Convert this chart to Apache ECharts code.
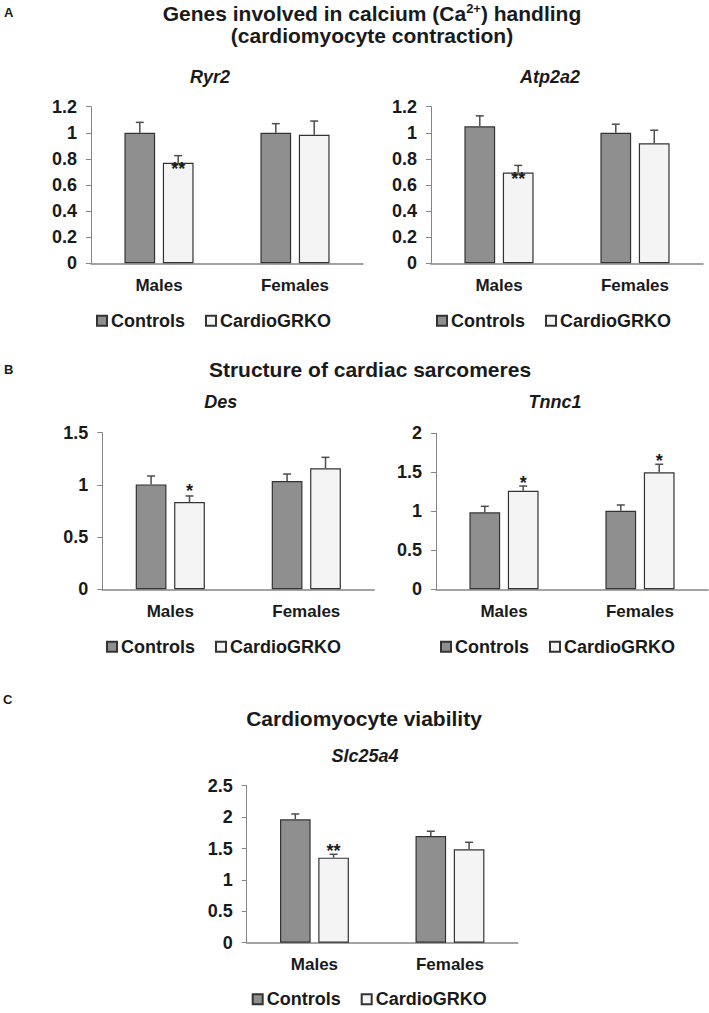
<!DOCTYPE html>
<html>
<head>
<meta charset="utf-8">
<script src="https://cdn.jsdelivr.net/npm/echarts@6/dist/echarts.min.js"></script>
<style>
html,body{margin:0;padding:0;background:#fff;}
#chart{width:709px;height:1013px;}
</style>
</head>
<body>
<div id="chart"></div>
<script>
// ---------- data ----------
const categories = ['Males', 'Females'];
const seriesNames = ['Controls', 'CardioGRKO'];

const ryr2Controls = [1.00, 1.00];
const ryr2ControlsErr = [0.08, 0.07];
const ryr2Ko = [0.77, 0.985];
const ryr2KoErr = [0.055, 0.105];
const ryr2Sig = ['**', ''];

const atp2a2Controls = [1.05, 1.00];
const atp2a2ControlsErr = [0.08, 0.066];
const atp2a2Ko = [0.695, 0.92];
const atp2a2KoErr = [0.055, 0.10];
const atp2a2Sig = ['**', ''];

const desControls = [1.005, 1.037];
const desControlsErr = [0.08, 0.067];
const desKo = [0.836, 1.159];
const desKoErr = [0.058, 0.105];
const desSig = ['*', ''];

const tnnc1Controls = [0.987, 1.008];
const tnnc1ControlsErr = [0.077, 0.073];
const tnnc1Ko = [1.264, 1.50];
const tnnc1KoErr = [0.06, 0.103];
const tnnc1Sig = ['*', '*'];

const slcControls = [1.965, 1.70];
const slcControlsErr = [0.085, 0.075];
const slcKo = [1.354, 1.487];
const slcKoErr = [0.054, 0.112];
const slcSig = ['**', ''];

// y-axis tick settings [min, max, interval]
const ryr2Ticks = [0, 1.2, 0.2];
const atp2a2Ticks = [0, 1.2, 0.2];
const desTicks = [0, 1.5, 0.5];
const tnnc1Ticks = [0, 2, 0.5];
const slcTicks = [0, 2.5, 0.5];

// ---------- layout / styling ----------
const FONT = "'Liberation Sans', Arial, sans-serif";
const TXT = '#1a1a1a';
const AXIS = '#858585';
const CTRL_FILL = '#8f8f8f';
const KO_FILL = '#f4f4f4';
const BORDER = '#333333';
const ERR = '#4d4d4d';

const panels = [
  {gene: 'Ryr2', ctrl: ryr2Controls, ctrlErr: ryr2ControlsErr, ko: ryr2Ko, koErr: ryr2KoErr, sig: ryr2Sig, ticks: ryr2Ticks,
   grid: {left: 91, top: 106.7, width: 272, height: 156.6}, sub: [210, 77], legend: [96, 320.7], sigAt: 'bar', sigDy: 6},
  {gene: 'Atp2a2', ctrl: atp2a2Controls, ctrlErr: atp2a2ControlsErr, ko: atp2a2Ko, koErr: atp2a2KoErr, sig: atp2a2Sig, ticks: atp2a2Ticks,
   grid: {left: 431, top: 106.7, width: 272, height: 156.6}, sub: [550, 77], legend: [436, 320.7], sigAt: 'bar', sigDy: 6},
  {gene: 'Des', ctrl: desControls, ctrlErr: desControlsErr, ko: desKo, koErr: desKoErr, sig: desSig, ticks: desTicks,
   grid: {left: 102.3, top: 432.7, width: 272, height: 156.6}, sub: [220.7, 401.7], legend: [106, 646.7], sigAt: 'err', sigDy: -5},
  {gene: 'Tnnc1', ctrl: tnnc1Controls, ctrlErr: tnnc1ControlsErr, ko: tnnc1Ko, koErr: tnnc1KoErr, sig: tnnc1Sig, ticks: tnnc1Ticks,
   grid: {left: 436, top: 433.3, width: 272, height: 156}, sub: [555, 401.7], legend: [440, 646.7], sigAt: 'err', sigDy: -3},
  {gene: 'Slc25a4', ctrl: slcControls, ctrlErr: slcControlsErr, ko: slcKo, koErr: slcKoErr, sig: slcSig, ticks: slcTicks,
   grid: {left: 246.7, top: 785.7, width: 271, height: 157}, sub: [365, 756], legend: [251.7, 999.3], sigAt: 'err', sigDy: -3}
];

const BAR_FRAC = 0.226;   // bar width as fraction of category band
const BAR_GAP = 0.25;     // gap between bars as fraction of bar width
const OFFSET_FRAC = BAR_FRAC * (1 + BAR_GAP) / 2;

const grids = [], xAxes = [], yAxes = [], series = [], legends = [];
const graphics = [];

function fmt(v) { return String(parseFloat(v.toFixed(2))); }

panels.forEach((p, i) => {
  grids.push(Object.assign({containLabel: false}, p.grid));
  xAxes.push({
    type: 'category', gridIndex: i, data: categories,
    axisLine: {show: true, lineStyle: {color: AXIS, width: 1.5}},
    axisTick: {show: false},
    axisLabel: {color: TXT, fontFamily: FONT, fontWeight: 'bold', fontSize: 17, margin: 13.5},
    splitLine: {show: false}
  });
  yAxes.push({
    type: 'value', gridIndex: i, min: p.ticks[0], max: p.ticks[1], interval: p.ticks[2],
    axisLine: {show: true, lineStyle: {color: AXIS, width: 1}},
    axisTick: {show: true, inside: false, length: 5, lineStyle: {color: AXIS}},
    axisLabel: {color: TXT, fontFamily: FONT, fontWeight: 'bold', fontSize: 18, margin: 14, formatter: fmt},
    splitLine: {show: false}
  });
  const groups = [
    {name: seriesNames[0], vals: p.ctrl, errs: p.ctrlErr, fill: CTRL_FILL, sign: -1},
    {name: seriesNames[1], vals: p.ko, errs: p.koErr, fill: KO_FILL, sign: 1}
  ];
  groups.forEach(g => {
    series.push({
      name: g.name, type: 'bar', xAxisIndex: i, yAxisIndex: i,
      data: g.vals, barWidth: (BAR_FRAC * 100) + '%', barGap: (BAR_GAP * 100) + '%',
      itemStyle: {color: g.fill, borderColor: BORDER, borderWidth: 1.2},
      emphasis: {disabled: true}, animation: false
    });
  });
  groups.forEach(g => {
    series.push({
      type: 'custom', xAxisIndex: i, yAxisIndex: i, animation: false, silent: true, z: 3,
      data: g.vals.map((v, k) => [k, v, g.errs[k]]),
      encode: {x: 0, y: 1},
      renderItem: (params, api) => {
        const k = api.value(0), v = api.value(1), e = api.value(2);
        const base = api.coord([k, v]);
        const top = api.coord([k, v + e]);
        const bw = api.size([1, 0])[0];
        const x = base[0] + g.sign * bw * OFFSET_FRAC;
        const st = {stroke: ERR, lineWidth: 1.5};
        return {type: 'group', children: [
          {type: 'line', shape: {x1: x, y1: base[1], x2: x, y2: top[1]}, style: st},
          {type: 'line', shape: {x1: x - 4, y1: top[1], x2: x + 4, y2: top[1]}, style: st}
        ]};
      }
    });
  });
  // significance marks (on CardioGRKO bars)
  series.push({
    type: 'custom', xAxisIndex: i, yAxisIndex: i, animation: false, silent: true, z: 4,
    data: p.ko.map((v, k) => [k, p.sigAt === 'bar' ? v : v + p.koErr[k], p.sig[k]]),
    encode: {x: 0, y: 1},
    renderItem: (params, api) => {
      const k = api.value(0), y = api.value(1);
      const label = p.sig[k];
      if (!label) return null;
      const c = api.coord([k, y]);
      const bw = api.size([1, 0])[0];
      return {type: 'text', x: c[0] + bw * OFFSET_FRAC, y: c[1] + p.sigDy,
        style: {text: label, fill: TXT, font: 'bold 18px ' + FONT, textAlign: 'center', textVerticalAlign: 'middle'}};
    }
  });
  legends.push({
    data: seriesNames, left: p.legend[0], top: p.legend[1] - 9, padding: 0,
    itemWidth: 10, itemHeight: 10, itemGap: 20, icon: 'rect', selectedMode: false,
    textStyle: {color: TXT, fontFamily: FONT, fontWeight: 'bold', fontSize: 18, padding: [0, 0, 0, -1]}
  });
  graphics.push({type: 'text', x: p.sub[0], y: p.sub[1],
    style: {text: p.gene, fill: TXT, font: 'italic bold 18px ' + FONT, textAlign: 'center', textVerticalAlign: 'middle'}});
});

// panel letters and section titles
const letterFont = 'bold 13px ' + FONT;
const titleFont = 'bold 21px ' + FONT;
graphics.push(
  {type: 'text', x: 4, y: 12, style: {text: 'A', fill: TXT, font: letterFont, textVerticalAlign: 'middle'}},
  {type: 'text', x: 4, y: 369, style: {text: 'B', fill: TXT, font: letterFont, textVerticalAlign: 'middle'}},
  {type: 'text', x: 3, y: 699, style: {text: 'C', fill: TXT, font: letterFont, textVerticalAlign: 'middle'}},
  {type: 'text', x: 372, y: 13, style: {
    text: 'Genes involved in calcium (Ca{sup|2+}) handling', fill: TXT, font: titleFont,
    textAlign: 'center', textVerticalAlign: 'middle',
    rich: {sup: {fontSize: 13, fontWeight: 'bold', fontFamily: FONT, fill: TXT, padding: [0, 0, 9, 0]}}}},
  {type: 'text', x: 372, y: 35, style: {text: '(cardiomyocyte contraction)', fill: TXT, font: titleFont, textAlign: 'center', textVerticalAlign: 'middle'}},
  {type: 'text', x: 370, y: 369, style: {text: 'Structure of cardiac sarcomeres', fill: TXT, font: titleFont, textAlign: 'center', textVerticalAlign: 'middle'}},
  {type: 'text', x: 364, y: 718.5, style: {text: 'Cardiomyocyte viability', fill: TXT, font: titleFont, textAlign: 'center', textVerticalAlign: 'middle'}}
);

const chart = echarts.init(document.getElementById('chart'), null, {renderer: 'svg'});
chart.setOption({
  backgroundColor: '#ffffff',
  animation: false,
  grid: grids, xAxis: xAxes, yAxis: yAxes, series: series, legend: legends,
  graphic: graphics
});
</script>
</body>
</html>
